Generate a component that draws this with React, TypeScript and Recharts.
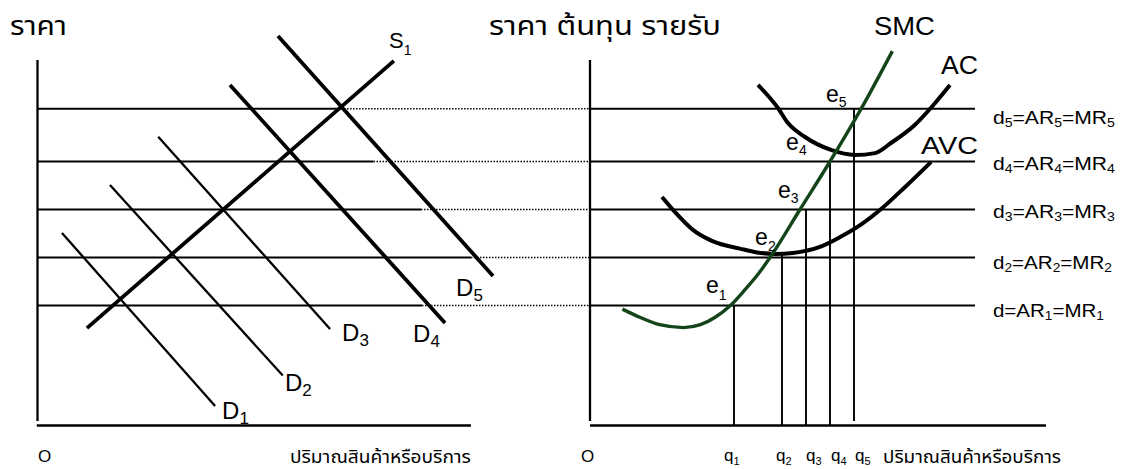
import React from 'react';
import { ComposedChart, Line, XAxis, YAxis, ReferenceLine, ReferenceDot } from 'recharts';

// ---------- layout (pixels) ----------
const W = 1122;
const H = 469;
const PX = 24; // pixels per unit on both axes
const ORIGIN_L = 37.5; // x pixel of left panel's price axis
const ORIGIN_R = 590; // x pixel of right panel's cost axis
const ORIGIN_Y = 425.5; // y pixel of the quantity axes

// ---------- data ----------
// price levels P1..P5 (d1..d5)
const PRICE_LEVELS = [5, 7, 9, 11, 13.2];
// where the solid part of each price line ends on the left panel (quantity)
const LEFT_SOLID_END = [16.02, 18.06, 15.98, 14.0, 12.65];
const RIGHT_LINE_END = 16.04;
// firm outputs q1..q5 and where their verticals start / end
const QUANTITIES = [6, 8, 9, 10, 11];
const Q_TOP = [5, 7.15, 9, 11, 13.2];
const Q_BOTTOM = [0, 0, 0, 0, 0.19];
// axis extents
const AXIS_TOP = 15.23;
const AXIS_BOTTOM = 0.19;
const LEFT_X_END = 18.06;
const RIGHT_X_END = 19.0;

// market demand and supply (left panel)
const D1 = [{ q: 1.02, p: 8.02 }, { q: 7.4, p: 0.81 }];
const D2 = [{ q: 3.02, p: 10.02 }, { q: 10.22, p: 2.08 }];
const D3 = [{ q: 5.03, p: 12.03 }, { q: 12.19, p: 4.02 }];
const D4 = [{ q: 8.02, p: 14.19 }, { q: 16.98, p: 4.27 }];
const D5 = [{ q: 10.02, p: 16.23 }, { q: 18.98, p: 6.23 }];
const S1 = [{ q: 2.06, p: 4.06 }, { q: 14.85, p: 15.19 }];

// firm cost curves (right panel)
const SMC = [
  { q: 1.35, p: 4.85 }, { q: 2.1, p: 4.5 }, { q: 2.9, p: 4.2 }, { q: 3.9, p: 4.08 },
  { q: 4.6, p: 4.2 }, { q: 5.2, p: 4.5 }, { q: 5.85, p: 5 }, { q: 6.45, p: 5.65 },
  { q: 7, p: 6.3 }, { q: 7.5, p: 7 }, { q: 8.75, p: 9 }, { q: 10, p: 11 },
  { q: 11.3, p: 13.2 }, { q: 12.6, p: 15.6 },
];
const AVC = [
  { q: 3, p: 9.52 }, { q: 3.58, p: 8.85 }, { q: 4.29, p: 8.15 }, { q: 5.08, p: 7.69 },
  { q: 6.25, p: 7.37 }, { q: 6.96, p: 7.21 }, { q: 7.71, p: 7.15 }, { q: 8.46, p: 7.19 },
  { q: 9.58, p: 7.44 }, { q: 10.42, p: 7.85 }, { q: 11.33, p: 8.4 }, { q: 12.13, p: 9.02 },
  { q: 13.13, p: 9.94 }, { q: 14.21, p: 10.98 },
];
const AC = [
  { q: 7, p: 14.19 }, { q: 7.83, p: 13.23 }, { q: 8.25, p: 12.6 }, { q: 8.96, p: 12.02 },
  { q: 10.04, p: 11.48 }, { q: 11.04, p: 11.27 }, { q: 11.88, p: 11.35 }, { q: 12.54, p: 11.77 },
  { q: 13.53, p: 12.52 }, { q: 14.2, p: 13.23 }, { q: 15, p: 14.19 },
];

// ---------- labels ----------
type Seg = [string, boolean];
interface Lbl {
  axis: 'L' | 'R';
  x: number;
  y: number;
  size: number;
  subSize?: number;
  subDy?: number;
  width?: number;
  segs: Seg[];
}
const T = (s: string): Seg => [s, false];
const S = (s: string): Seg => [s, true];

const LABELS: Lbl[] = [
  { axis: 'L', x: -1.15, y: 16.27, size: 26, width: 57, segs: [T('ราคา')] },
  { axis: 'L', x: 14.65, y: 15.73, size: 22, subSize: 14, subDy: 7, segs: [T('S'), S('1')] },
  { axis: 'L', x: 7.69, y: 0.27, size: 24, subSize: 17, subDy: 5, segs: [T('D'), S('1')] },
  { axis: 'L', x: 10.31, y: 1.44, size: 24, subSize: 17, subDy: 5, segs: [T('D'), S('2')] },
  { axis: 'L', x: 12.69, y: 3.52, size: 24, subSize: 17, subDy: 5, segs: [T('D'), S('3')] },
  { axis: 'L', x: 15.65, y: 3.48, size: 24, subSize: 17, subDy: 5, segs: [T('D'), S('4')] },
  { axis: 'L', x: 17.44, y: 5.4, size: 24, subSize: 17, subDy: 5, segs: [T('D'), S('5')] },
  { axis: 'L', x: 0.02, y: -1.52, size: 17, segs: [T('O')] },
  { axis: 'L', x: 10.52, y: -1.56, size: 18, width: 181, segs: [T('ปริมาณสินค้าหรือบริการ')] },

  { axis: 'R', x: -4.21, y: 16.27, size: 26, width: 232, segs: [T('ราคา ต้นทุน รายรับ')] },
  { axis: 'R', x: 11.83, y: 16.27, size: 25, width: 61, segs: [T('SMC')] },
  { axis: 'R', x: 14.63, y: 14.65, size: 26, width: 37, segs: [T('AC')] },
  { axis: 'R', x: 13.79, y: 11.31, size: 24, width: 57, segs: [T('AVC')] },
  { axis: 'R', x: 9.83, y: 13.48, size: 23, subSize: 14, subDy: 5, segs: [T('e'), S('5')] },
  { axis: 'R', x: 8.17, y: 11.48, size: 23, subSize: 14, subDy: 5, segs: [T('e'), S('4')] },
  { axis: 'R', x: 7.83, y: 9.48, size: 23, subSize: 14, subDy: 5, segs: [T('e'), S('3')] },
  { axis: 'R', x: 6.88, y: 7.52, size: 23, subSize: 14, subDy: 6, segs: [T('e'), S('2')] },
  { axis: 'R', x: 4.83, y: 5.52, size: 23, subSize: 14, subDy: 7, segs: [T('e'), S('1')] },
  { axis: 'R', x: 16.79, y: 12.56, size: 18, subSize: 12, subDy: 3, width: 122, segs: [T('d'), S('5'), T('=AR'), S('5'), T('=MR'), S('5')] },
  { axis: 'R', x: 16.79, y: 10.65, size: 18, subSize: 12, subDy: 3, width: 122, segs: [T('d'), S('4'), T('=AR'), S('4'), T('=MR'), S('4')] },
  { axis: 'R', x: 16.79, y: 8.65, size: 18, subSize: 12, subDy: 3, width: 122, segs: [T('d'), S('3'), T('=AR'), S('3'), T('=MR'), S('3')] },
  { axis: 'R', x: 16.79, y: 6.52, size: 18, subSize: 12, subDy: 3, width: 119, segs: [T('d'), S('2'), T('=AR'), S('2'), T('=MR'), S('2')] },
  { axis: 'R', x: 16.79, y: 4.54, size: 18, subSize: 12, subDy: 3, width: 111, segs: [T('d=AR'), S('1'), T('=MR'), S('1')] },
  { axis: 'R', x: 5.58, y: -1.48, size: 17, subSize: 11, subDy: 4, segs: [T('q'), S('1')] },
  { axis: 'R', x: 7.75, y: -1.48, size: 17, subSize: 11, subDy: 4, segs: [T('q'), S('2')] },
  { axis: 'R', x: 9.0, y: -1.48, size: 17, subSize: 11, subDy: 4, segs: [T('q'), S('3')] },
  { axis: 'R', x: 10.04, y: -1.48, size: 17, subSize: 11, subDy: 4, segs: [T('q'), S('4')] },
  { axis: 'R', x: 11.04, y: -1.48, size: 17, subSize: 11, subDy: 4, segs: [T('q'), S('5')] },
  { axis: 'R', x: -0.38, y: -1.52, size: 17, segs: [T('O')] },
  { axis: 'R', x: 12.21, y: -1.56, size: 18, width: 178, segs: [T('ปริมาณสินค้าหรือบริการ')] },
];

const FONT = "'Liberation Sans', Arial, 'Noto Sans Thai', 'Noto Sans', sans-serif";
const INK = '#000';
const GREEN = '#14451a';

function LabelText({ cx, cy, spec }: { cx: number; cy: number; spec: Lbl }) {
  let inSub = false;
  const kids = spec.segs.map(([t, sub], i) => {
    let dy = 0;
    if (sub && !inSub) dy = spec.subDy || 0;
    if (!sub && inSub) dy = -(spec.subDy || 0);
    inSub = sub;
    return (
      <tspan key={i} dy={dy || undefined} fontSize={sub ? spec.subSize : spec.size}>
        {t}
      </tspan>
    );
  });
  return (
    <text
      x={cx}
      y={cy}
      fontFamily={FONT}
      fontSize={spec.size}
      fill={INK}
      textLength={spec.width}
      lengthAdjust={spec.width ? 'spacingAndGlyphs' : undefined}
    >
      {kids}
    </text>
  );
}

const seg = (x1: number, y1: number, x2: number, y2: number) => [
  { x: x1, y: y1 },
  { x: x2, y: y2 },
];

export default function App() {
  const domL: [number, number] = [-ORIGIN_L / PX, (W - ORIGIN_L) / PX];
  const domR: [number, number] = [-ORIGIN_R / PX, (W - ORIGIN_R) / PX];
  const domY: [number, number] = [(ORIGIN_Y - H) / PX, ORIGIN_Y / PX];
  const dottedEnd = (ORIGIN_R - ORIGIN_L) / PX;

  const curve = (id: string, axis: string, data: any[], stroke: string, width: number) => (
    <Line
      key={id}
      xAxisId={axis}
      yAxisId="y"
      data={data}
      dataKey="p"
      type="monotone"
      stroke={stroke}
      strokeWidth={width}
      dot={false}
      activeDot={false}
      isAnimationActive={false}
    />
  );

  return (
    <div style={{ position: 'absolute', left: 0, top: 0, width: W, height: H, background: '#fff' }}>
      <ComposedChart width={W} height={H} margin={{ top: 0, right: 0, bottom: 0, left: 0 }}>
        <XAxis xAxisId="L" type="number" dataKey="q" domain={domL} allowDataOverflow hide />
        <XAxis xAxisId="R" type="number" dataKey="q" domain={domR} allowDataOverflow hide />
        <YAxis yAxisId="y" type="number" domain={domY} allowDataOverflow hide />

        {/* left panel axes */}
        <ReferenceLine xAxisId="L" yAxisId="y" segment={seg(0, AXIS_TOP, 0, AXIS_BOTTOM)} stroke={INK} strokeWidth={2.3} ifOverflow="visible" />
        <ReferenceLine xAxisId="L" yAxisId="y" segment={seg(-0.03, 0, LEFT_X_END, 0)} stroke={INK} strokeWidth={2.3} ifOverflow="visible" />
        {/* right panel axes */}
        <ReferenceLine xAxisId="R" yAxisId="y" segment={seg(0, AXIS_TOP, 0, AXIS_BOTTOM)} stroke={INK} strokeWidth={2.3} ifOverflow="visible" />
        <ReferenceLine xAxisId="R" yAxisId="y" segment={seg(0, 0, RIGHT_X_END, 0)} stroke={INK} strokeWidth={2.3} ifOverflow="visible" />

        {/* price lines */}
        {PRICE_LEVELS.map((p, i) => (
          <ReferenceLine key={'ls' + i} xAxisId="L" yAxisId="y" segment={seg(0, p, LEFT_SOLID_END[i], p)} stroke={INK} strokeWidth={1.9} ifOverflow="visible" />
        ))}
        {PRICE_LEVELS.map((p, i) => (
          <ReferenceLine key={'ld' + i} xAxisId="L" yAxisId="y" segment={seg(LEFT_SOLID_END[i], p, dottedEnd, p)} stroke={INK} strokeWidth={1.4} strokeDasharray="1.5 1.5" ifOverflow="visible" />
        ))}
        {PRICE_LEVELS.map((p, i) => (
          <ReferenceLine key={'rs' + i} xAxisId="R" yAxisId="y" segment={seg(0, p, RIGHT_LINE_END, p)} stroke={INK} strokeWidth={1.9} ifOverflow="visible" />
        ))}
        {/* output verticals */}
        {QUANTITIES.map((q, i) => (
          <ReferenceLine key={'q' + i} xAxisId="R" yAxisId="y" segment={seg(q, Q_TOP[i], q, Q_BOTTOM[i])} stroke={INK} strokeWidth={1.9} ifOverflow="visible" />
        ))}

        {/* market curves */}
        {curve('D1', 'L', D1, INK, 2.3)}
        {curve('D2', 'L', D2, INK, 2.3)}
        {curve('D3', 'L', D3, INK, 2.3)}
        {curve('D4', 'L', D4, INK, 3.8)}
        {curve('D5', 'L', D5, INK, 3.8)}
        {curve('S1', 'L', S1, INK, 3.8)}

        {/* firm curves */}
        {curve('AC', 'R', AC, INK, 4)}
        {curve('AVC', 'R', AVC, INK, 4)}
        {curve('SMC', 'R', SMC, GREEN, 3.4)}

        {LABELS.map((l, i) => (
          <ReferenceDot
            key={'lab' + i}
            xAxisId={l.axis}
            yAxisId="y"
            x={l.x}
            y={l.y}
            r={0}
            ifOverflow="visible"
            shape={(props: any) => <LabelText cx={props.cx} cy={props.cy} spec={l} />}
          />
        ))}
      </ComposedChart>
    </div>
  );
}
